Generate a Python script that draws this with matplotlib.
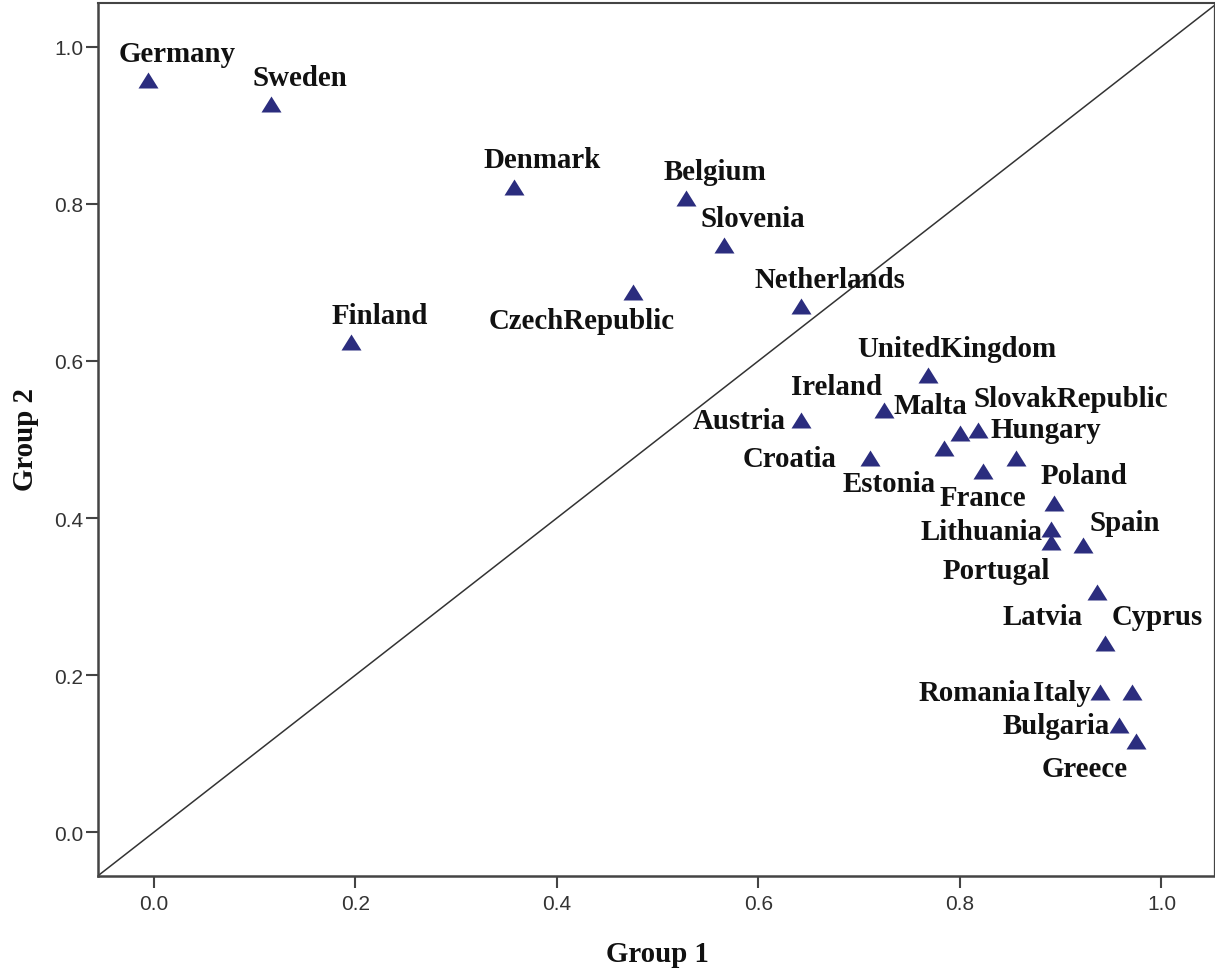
import matplotlib
matplotlib.use("Agg")
import matplotlib.pyplot as plt
from matplotlib.ticker import FormatStrFormatter

# Country scores on the two groups
countries = ["Germany", "Sweden", "Denmark", "Belgium", "Slovenia", "CzechRepublic",
             "Netherlands", "Finland", "UnitedKingdom", "Ireland", "Malta",
             "SlovakRepublic", "Hungary", "Estonia", "France", "Austria", "Croatia",
             "Poland", "Lithuania", "Portugal", "Spain", "Latvia", "Cyprus",
             "Romania", "Italy", "Bulgaria", "Greece"]
group1 = [-0.006, 0.116, 0.357, 0.528, 0.566, 0.476,
          0.642, 0.196, 0.768, 0.725, 0.800,
          0.818, 0.856, 0.784, 0.823, 0.642, 0.711,
          0.893, 0.890, 0.890, 0.922, 0.936, 0.944,
          0.939, 0.971, 0.958, 0.975]
group2 = [0.958, 0.927, 0.822, 0.807, 0.748, 0.688,
          0.670, 0.624, 0.582, 0.538, 0.508,
          0.512, 0.477, 0.489, 0.460, 0.525, 0.476,
          0.419, 0.386, 0.370, 0.366, 0.306, 0.241,
          0.178, 0.178, 0.136, 0.116]

x_ticks = [0.0, 0.2, 0.4, 0.6, 0.8, 1.0]
y_ticks = [0.0, 0.2, 0.4, 0.6, 0.8, 1.0]

# Label placement relative to each point (pixels: right, up), text centred on baseline
label_offsets = {
    "Germany": (29, 19), "Sweden": (29, 19), "Denmark": (29, 20), "Belgium": (29, 19),
    "Slovenia": (29, 19), "CzechRepublic": (-52, -36), "Netherlands": (29, 19),
    "Finland": (28, 19), "UnitedKingdom": (29, 19), "Ireland": (-48, 16),
    "Malta": (-30, 20), "SlovakRepublic": (93, 24), "Hungary": (29, 21),
    "Estonia": (-55, -43), "France": (0, -34), "Austria": (-61, -8),
    "Croatia": (-81, -8), "Poland": (30, 20), "Lithuania": (-69, -10),
    "Portugal": (-54, -36), "Spain": (42, 15), "Latvia": (-54, -32),
    "Cyprus": (52, 19), "Romania": (-125, -8), "Italy": (-70, -8),
    "Bulgaria": (-63, -8), "Greece": (-52, -35),
}

W, H = 1215, 970
fig = plt.figure(figsize=(W / 100, H / 100), dpi=100)
fig.patch.set_facecolor("white")
ax = fig.add_axes([98 / W, (H - 877.3) / H, (1213.6 - 98) / W, (877.3 - 4) / H])

ax.set_xlim(-0.0553, 1.0517)
ax.set_ylim(-0.056, 1.0556)

# Reference diagonal (equal scores)
ax.axline((0, 0), slope=1, color="#333333", lw=1.1, zorder=1)

tri = [(-1, -0.8), (1, -0.8), (0, 0.8)]
ax.plot(group1, group2, linestyle="none", marker=tri, markersize=14.4,
        markerfacecolor="#2b2d7e", markeredgewidth=0, zorder=3)

label_font = dict(family="Liberation Serif", weight="bold", size=20.8, color="#111111")
for name, gx, gy in zip(countries, group1, group2):
    dx, dy = label_offsets[name]
    ax.annotate(name, (gx, gy), xytext=(dx, dy), textcoords="offset pixels",
                ha="center", va="baseline", **label_font)

ax.set_xticks(x_ticks)
ax.set_yticks(y_ticks)
ax.xaxis.set_major_formatter(FormatStrFormatter("%.1f"))
ax.yaxis.set_major_formatter(FormatStrFormatter("%.1f"))
for lab in ax.get_xticklabels() + ax.get_yticklabels():
    lab.set_fontfamily("Liberation Sans")
ax.tick_params(axis="both", direction="out", length=8.6, width=1.5, color="#444444",
               labelsize=15, labelcolor="#333333")
ax.tick_params(axis="x", pad=4.5)
ax.tick_params(axis="y", pad=2)

for side, lw in (("left", 1.8), ("bottom", 1.8), ("top", 1.5), ("right", 0.9)):
    ax.spines[side].set_color("#444444")
    ax.spines[side].set_linewidth(lw)

title_font = dict(family="Liberation Serif", weight="bold", size=20.8, color="#111111")
ax.set_xlabel("Group 1", va="baseline", **title_font)
ax.xaxis.set_label_coords((657.8 - 98) / 1115.6, (877.3 - 961.7) / 873.3)
ax.set_ylabel("Group 2", va="center", **title_font)
ax.yaxis.set_label_coords((26 - 98) / 1115.6, (877.3 - 440) / 873.3)

fig.savefig("out.png", dpi=100, facecolor="white")
